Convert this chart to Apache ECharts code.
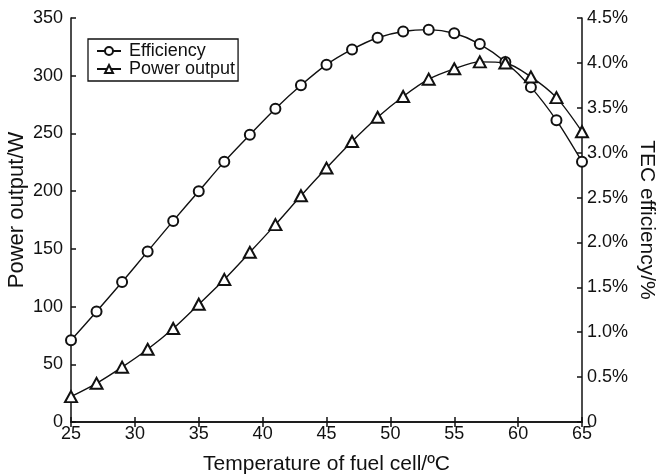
<!DOCTYPE html>
<html>
<head>
<meta charset="utf-8">
<script src="https://cdn.jsdelivr.net/npm/echarts@6/dist/echarts.min.js"></script>
<style>
  html, body { margin: 0; padding: 0; background: #fff; }
  #chart { width: 657px; height: 474px; }
</style>
</head>
<body>
<div id="chart"></div>
<script>
// temperature of fuel cell (ºC)
const temps = [25, 27, 29, 31, 33, 35, 37, 39, 41, 43, 45, 47, 49, 51, 53, 55, 57, 59, 61, 63, 65];
// TEC efficiency (%), right axis
const efficiency = [0.91, 1.23, 1.56, 1.90, 2.24, 2.57, 2.90, 3.20, 3.49, 3.75, 3.98, 4.15, 4.28, 4.35, 4.37, 4.33, 4.21, 4.01, 3.73, 3.36, 2.90];
// power output (W), left axis
const power = [22, 33.5, 47.5, 63, 81, 102, 123.5, 147, 171, 196, 220, 243, 264, 282, 297, 306, 312, 311, 299, 281, 251.5];

const ink = '#111';
const font = 'Liberation Sans, Arial, sans-serif';
const tickFont = 18;
const titleFont = 21;

const chart = echarts.init(document.getElementById('chart'));

const axisCommon = {
  axisLine: { show: true, lineStyle: { color: ink, width: 1.5 } },
  axisTick: { show: true, inside: true, length: 5, lineStyle: { color: ink, width: 1.5 } },
  splitLine: { show: false },
};

chart.setOption({
  backgroundColor: '#fff',
  animation: false,
  textStyle: { fontFamily: font },
  grid: { left: 71, right: 75, top: 18, bottom: 52, containLabel: false, outerBoundsMode: 'none' },
  legend: {
    orient: 'vertical',
    left: 88,
    top: 39,
    padding: [3, 3, 3, 8],
    itemGap: 0,
    itemWidth: 24,
    itemHeight: 10,
    borderColor: ink,
    borderWidth: 1.3,
    borderRadius: 0,
    textStyle: { color: ink, fontSize: tickFont, fontFamily: font, padding: [0, 0, 0, 3] },
    data: ['Efficiency', 'Power output'],
  },
  xAxis: [
    {
      ...axisCommon,
      type: 'value',
      min: 25,
      max: 65,
      interval: 5,
      name: 'Temperature of fuel cell/ºC',
      nameLocation: 'middle',
      nameGap: 32,
      nameTextStyle: { color: ink, fontSize: titleFont, fontFamily: font },
      axisLabel: { color: ink, fontSize: tickFont, margin: 3, fontFamily: font },
    },
    {
      ...axisCommon,
      type: 'value',
      position: 'top',
      min: 25,
      max: 65,
      interval: 5,
      axisLabel: { show: false },
    },
  ],
  yAxis: [
    {
      ...axisCommon,
      type: 'value',
      min: 0,
      max: 350,
      interval: 50,
      name: 'Power output/W',
      nameLocation: 'middle',
      nameGap: 43,
      nameMoveOverlap: false,
      nameTextStyle: { color: ink, fontSize: 22, fontFamily: font, padding: [0, 0, 0, 20] },
      axisLabel: { color: ink, fontSize: tickFont, margin: 8, fontFamily: font },
    },
    {
      ...axisCommon,
      type: 'value',
      position: 'right',
      min: 0,
      max: 4.5,
      interval: 0.5,
      name: 'TEC efficiency/%',
      nameLocation: 'middle',
      nameGap: 54,
      nameMoveOverlap: false,
      nameRotate: -90,
      nameTextStyle: { color: ink, fontSize: titleFont, fontFamily: font },
      axisLabel: {
        color: ink, fontSize: tickFont, margin: 5, fontFamily: font,
        formatter: v => (v === 0 ? '0' : v.toFixed(1) + '%'),
      },
    },
  ],
  series: [
    {
      name: 'Efficiency',
      type: 'line',
      yAxisIndex: 1,
      smooth: 0.3,
      symbol: 'emptyCircle',
      symbolSize: 10,
      lineStyle: { color: ink, width: 1.4 },
      itemStyle: { color: ink, borderWidth: 1.3 },
      data: temps.map((t, i) => [t, efficiency[i]]),
    },
    {
      name: 'Power output',
      type: 'line',
      yAxisIndex: 0,
      smooth: 0.3,
      symbol: 'emptyTriangle',
      symbolSize: [12, 11],
      lineStyle: { color: ink, width: 1.4 },
      itemStyle: { color: ink, borderWidth: 1.3 },
      data: temps.map((t, i) => [t, power[i]]),
    },
  ],
});
</script>
</body>
</html>
